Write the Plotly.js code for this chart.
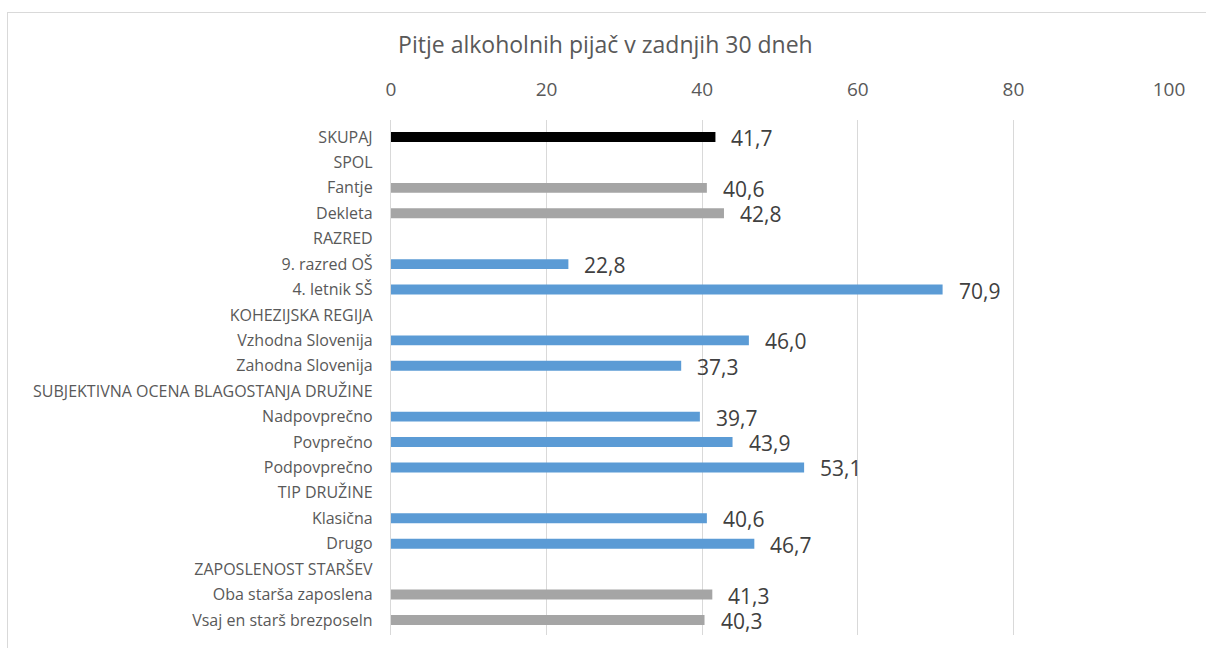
<!DOCTYPE html>
<html>
<head>
<meta charset="utf-8">
<script src="https://cdn.plot.ly/plotly-3.0.1.min.js"></script>
<style>
  html, body { margin: 0; padding: 0; background: #fff; }
  #frame { position: absolute; left: 7px; top: 12px; width: 1210px; height: 660px; border: 1px solid #d9d9d9; box-sizing: border-box; }
  #chart { position: absolute; left: 0; top: 0; width: 1206px; height: 648px; }
</style>
</head>
<body>
<div id="frame"></div>
<div id="chart"></div>
<script>
const categories = [
  "SKUPAJ", "SPOL", "Fantje", "Dekleta", "RAZRED", "9. razred OŠ", "4. letnik SŠ",
  "KOHEZIJSKA REGIJA", "Vzhodna Slovenija", "Zahodna Slovenija",
  "SUBJEKTIVNA OCENA BLAGOSTANJA DRUŽINE", "Nadpovprečno", "Povprečno", "Podpovprečno",
  "TIP DRUŽINE", "Klasična", "Drugo",
  "ZAPOSLENOST STARŠEV", "Oba starša zaposlena", "Vsaj en starš brezposeln"
];
const values = [
  41.7, null, 40.6, 42.8, null, 22.8, 70.9,
  null, 46.0, 37.3,
  null, 39.7, 43.9, 53.1,
  null, 40.6, 46.7,
  null, 41.3, 40.3
];
const barColors = [
  "#000000", null, "#a5a5a5", "#a5a5a5", null, "#5b9bd5", "#5b9bd5",
  null, "#5b9bd5", "#5b9bd5",
  null, "#5b9bd5", "#5b9bd5", "#5b9bd5",
  null, "#5b9bd5", "#5b9bd5",
  null, "#a5a5a5", "#a5a5a5"
];
const xTicks = [0, 20, 40, 60, 80, 100];
const titleText = "Pitje alkoholnih pijač v zadnjih 30 dneh";

const FONT = "'Open Sans', 'Noto Sans', sans-serif";

const trace = {
  type: "bar",
  orientation: "h",
  y: categories,
  x: values,
  marker: { color: barColors.map(c => c || "#ffffff") },
  width: 0.39,
  hoverinfo: "x+y"
};

const annotations = [];
values.forEach((v, i) => {
  if (v === null) return;
  annotations.push({
    x: v, y: categories[i], xref: "x", yref: "y",
    text: v.toFixed(1).replace(".", ","),
    showarrow: false, xanchor: "left", yanchor: "middle",
    xshift: 14, yshift: -1,
    font: { family: FONT, size: 21, color: "#404040" }
  });
});

const layout = {
  width: 1206, height: 648,
  margin: { l: 391, r: 37, t: 120, b: 13 },
  paper_bgcolor: "rgba(0,0,0,0)",
  plot_bgcolor: "rgba(0,0,0,0)",
  showlegend: false,
  title: {
    text: titleText,
    x: 0.502, xanchor: "center", xref: "container",
    y: 1 - 45 / 648, yanchor: "middle", yref: "container",
    font: { family: FONT, size: 23, color: "#595959" }
  },
  xaxis: {
    side: "top",
    range: [0, 100],
    tickvals: xTicks,
    ticktext: xTicks.map(String),
    showgrid: true, gridcolor: "#d9d9d9", gridwidth: 1.3,
    zeroline: false, showline: false,
    ticks: "", ticklabelstandoff: 19,
    tickfont: { family: FONT, size: 19, color: "#595959" },
    fixedrange: true
  },
  yaxis: {
    type: "category",
    categoryorder: "array",
    categoryarray: categories,
    autorange: "reversed",
    showgrid: false, zeroline: false,
    showline: true, linecolor: "#d9d9d9", linewidth: 1.3,
    ticks: "", ticklabelstandoff: 14,
    tickfont: { family: FONT, size: 16, color: "#595959" },
    fixedrange: true
  },
  annotations: annotations,
  bargap: 0.61
};

Plotly.newPlot("chart", [trace], layout, { displayModeBar: false, staticPlot: false });
</script>
</body>
</html>
